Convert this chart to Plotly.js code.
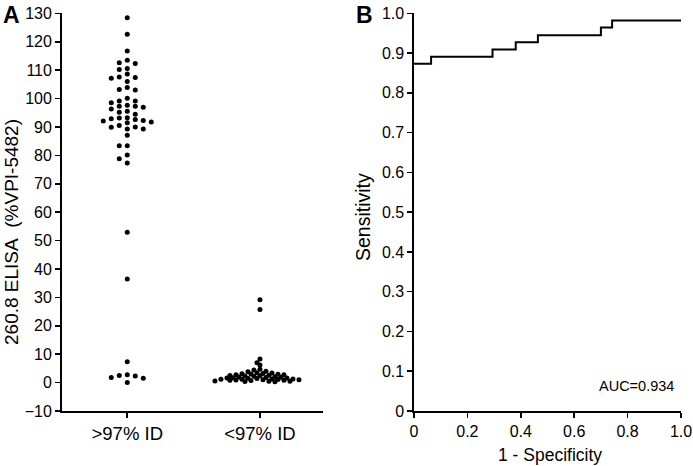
<!DOCTYPE html>
<html>
<head>
<meta charset="utf-8">
<script src="https://cdn.plot.ly/plotly-3.0.1.min.js"></script>
<style>html,body{margin:0;padding:0;background:#fff;}#chart{width:693px;height:466px;}</style>
</head>
<body>
<div id="chart"></div>
<script>
// ---------- data ----------
const groupLabels = ['>97% ID', '<97% ID'];
const group1Values = [128.4, 122.6, 116.7, 113.5, 112.6, 112.3, 110.6, 110.2, 108.6, 107.6, 107.4, 107.1, 106.0,
  103.9, 103.2, 103.0, 100.1, 99.1, 99.1, 98.5, 97.6, 97.3, 97.3, 96.9, 96.3, 95.5, 95.2, 94.5,
  93.2, 93.1, 92.9, 92.6, 92.3, 92.1, 91.7, 91.5, 90.5, 90.0, 89.9, 89.3, 89.3, 87.1, 83.4, 83.4,
  80.1, 78.8, 77.3, 52.9, 36.5, 7.3, 2.8, 2.5, 2.3, 1.8, 1.5, 0.0];
const group2Values = [29.2, 25.7, 8.3, 7.0, 6.2, 4.7, 4.4, 4.0, 3.8, 3.5, 3.4, 3.2, 3.1, 3.0, 2.9, 2.8, 2.8,
  2.6, 2.5, 2.4, 2.3, 2.2, 2.1, 2.0, 1.9, 1.8, 1.7, 1.6, 1.6, 1.5, 1.4, 1.3, 1.3, 1.2, 1.2, 1.1,
  1.0, 1.0, 0.9, 0.8, 0.8, 0.7, 0.6, 0.5, 0.5, 0.4, 0.3];
const rocFpr = [0, 0.064, 0.294, 0.381, 0.464, 0.700, 0.742, 1.0];
const rocTpr = [0.873, 0.891, 0.909, 0.927, 0.945, 0.964, 0.982, 0.982];
const aucText = 'AUC=0.934';
const yTicksA = [-10, 0, 10, 20, 30, 40, 50, 60, 70, 80, 90, 100, 110, 120, 130];
const yTicksB = [0, 0.1, 0.2, 0.3, 0.4, 0.5, 0.6, 0.7, 0.8, 0.9, 1.0];
const yTickTextB = ['0', '0.1', '0.2', '0.3', '0.4', '0.5', '0.6', '0.7', '0.8', '0.9', '1.0'];
const xTicksB = [0, 0.2, 0.4, 0.6, 0.8, 1.0];
const xTickTextB = ['0', '0.2', '0.4', '0.6', '0.8', '1.0'];

// ---------- geometry ----------
const W = 693, H = 466;
const xDomA = [61.7 / W, 323 / W];
const xDomB = [414 / W, 681 / W];
const yDom = [(H - 411) / H, (H - 13.3) / H];
const xRangeA = [-0.494, 1.475];
const yRangeA = [-10, 130];

const pxPerX = (xDomA[1] - xDomA[0]) * W / (xRangeA[1] - xRangeA[0]);
const pxPerY = (yDom[1] - yDom[0]) * H / (yRangeA[1] - yRangeA[0]);

// simple beeswarm layout computed from the values
function swarm(vals, center, stepPx, diam) {
  const placed = [];
  const xs = [];
  vals.forEach(v => {
    const y = v * pxPerY;
    for (let k = 0; k < 400; k++) {
      const n = Math.ceil(k / 2);
      const off = (k === 0 ? 0 : (k % 2 ? -n : n)) * stepPx;
      if (placed.every(p => Math.hypot(p[0] - off, p[1] - y) >= diam)) {
        placed.push([off, y]);
        xs.push(center + off / pxPerX);
        break;
      }
    }
  });
  return xs;
}

const x1 = swarm(group1Values, 0, 8, 4.6);
const x2 = swarm(group2Values, 1, 3, 3.7);

const font = 'Liberation Sans, Arial, Helvetica, sans-serif';
const marker = {color: '#000', size: 5, line: {width: 0}};

const traces = [
  {x: x1, y: group1Values, type: 'scatter', mode: 'markers', marker, xaxis: 'x', yaxis: 'y', hoverinfo: 'y'},
  {x: x2, y: group2Values, type: 'scatter', mode: 'markers', marker, xaxis: 'x', yaxis: 'y', hoverinfo: 'y'},
  {x: rocFpr, y: rocTpr, type: 'scatter', mode: 'lines', line: {color: '#000', width: 2, shape: 'hv'},
   xaxis: 'x2', yaxis: 'y2'}
];

const axisCommon = {
  showline: true, linecolor: '#000', linewidth: 1.6,
  ticks: 'outside', ticklen: 5, tickwidth: 1.6, tickcolor: '#000',
  showgrid: false, zeroline: false, fixedrange: true,
  tickfont: {family: font, size: 16, color: '#000'}
};

const layout = {
  width: W, height: H,
  margin: {l: 0, r: 0, t: 0, b: 0},
  paper_bgcolor: '#fff', plot_bgcolor: '#fff',
  showlegend: false,
  font: {family: font, color: '#000'},
  xaxis: Object.assign({}, axisCommon, {
    domain: xDomA, range: xRangeA, anchor: 'y',
    tickvals: [0, 1], ticktext: groupLabels, tickfont: {family: font, size: 18.5, color: '#000'}
  }),
  yaxis: Object.assign({}, axisCommon, {
    domain: yDom, range: yRangeA, anchor: 'x', tickvals: yTicksA
  }),
  xaxis2: Object.assign({}, axisCommon, {
    domain: xDomB, range: [0, 1], anchor: 'y2', tickvals: xTicksB, ticktext: xTickTextB
  }),
  yaxis2: Object.assign({}, axisCommon, {
    domain: yDom, range: [0, 1], anchor: 'x2', tickvals: yTicksB, ticktext: yTickTextB
  }),
  annotations: [
    {text: '<b>A</b>', xref: 'paper', yref: 'paper', x: 1 / W, y: 1 - 0 / H, xanchor: 'left', yanchor: 'top',
     showarrow: false, font: {family: font, size: 23, color: '#000'}},
    {text: '<b>B</b>', xref: 'paper', yref: 'paper', x: 354 / W, y: 1 - 0 / H, xanchor: 'left', yanchor: 'top',
     showarrow: false, font: {family: font, size: 23, color: '#000'}},
    {text: '260.8 ELISA\u00A0 (%VPI-5482)', xref: 'paper', yref: 'paper', x: 12 / W, y: (H - 232) / H,
     xanchor: 'center', yanchor: 'middle', textangle: -90, showarrow: false,
     font: {family: font, size: 19, color: '#000'}},
    {text: 'Sensitivity', xref: 'paper', yref: 'paper', x: 363 / W, y: (H - 217) / H,
     xanchor: 'center', yanchor: 'middle', textangle: -90, showarrow: false,
     font: {family: font, size: 19.5, color: '#000'}},
    {text: '1 - Specificity', xref: 'paper', yref: 'paper', x: 550 / W, y: (H - 455) / H,
     xanchor: 'center', yanchor: 'middle', showarrow: false,
     font: {family: font, size: 17.5, color: '#000'}},
    {text: aucText, xref: 'paper', yref: 'paper', x: 676 / W, y: (H - 386) / H,
     xanchor: 'right', yanchor: 'middle', showarrow: false,
     font: {family: font, size: 14.5, color: '#000'}}
  ]
};

Plotly.newPlot('chart', traces, layout, {displayModeBar: false, staticPlot: true});
</script>
</body>
</html>
